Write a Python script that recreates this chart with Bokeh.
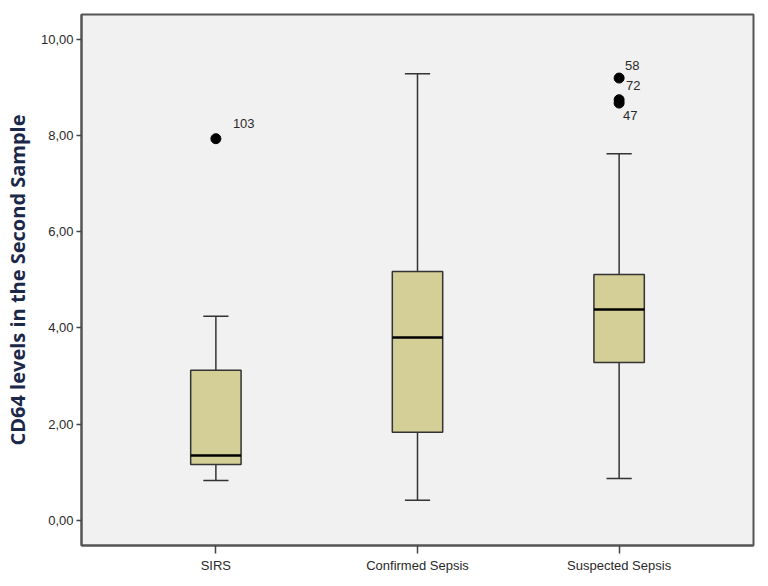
from bokeh.plotting import figure
from bokeh.models import FactorRange, FixedTicker, CustomJSTickFormatter
from bokeh.embed import file_html
from bokeh.resources import INLINE
from bokeh.core.properties import value

categories = ["SIRS", "Confirmed Sepsis", "Suspected Sepsis"]
lower_whisker = [0.83, 0.42, 0.87]
q1 = [1.16, 1.83, 3.28]
median = [1.35, 3.80, 4.38]
q3 = [3.12, 5.17, 5.11]
upper_whisker = [4.24, 9.28, 7.62]

outlier_cat = ["SIRS", "Suspected Sepsis", "Suspected Sepsis", "Suspected Sepsis"]
outlier_val = [7.93, 9.19, 8.74, 8.67]
outlier_id = ["103", "58", "72", "47"]

y_ticks = [0, 2, 4, 6, 8, 10]

p = figure(
    width=768, height=586,
    x_range=FactorRange(factors=categories, range_padding=0.111, range_padding_units="percent"),
    y_range=(-0.52, 10.51),
    output_backend="svg", toolbar_location=None,
    min_border_left=81, min_border_right=15, min_border_top=14, min_border_bottom=41,
)
p.styles = {"outline": "1.5px solid #222222", "outline-offset": "-2px"}
p.background_fill_color = "#f1f1f1"
p.border_fill_color = "white"
p.outline_line_color = "#555555"
p.outline_line_width = 2
p.grid.visible = False

# whiskers
p.segment(x0=categories, y0=q3, x1=categories, y1=upper_whisker, line_color="#333333", line_width=1.5)
p.segment(x0=categories, y0=lower_whisker, x1=categories, y1=q1, line_color="#333333", line_width=1.5)
# caps
p.rect(x=categories, y=upper_whisker, width=0.125, height=1.5, height_units="screen",
       fill_color="#333333", line_color=None)
p.rect(x=categories, y=lower_whisker, width=0.125, height=1.5, height_units="screen",
       fill_color="#333333", line_color=None)
# boxes
p.vbar(x=categories, bottom=q1, top=q3, width=0.25, fill_color="#d4cf97",
       line_color="#333333", line_width=1.5)
# medians
p.rect(x=categories, y=median, width=0.25, height=2.5, height_units="screen",
       fill_color="black", line_color=None)

# outliers
p.scatter(x=outlier_cat, y=outlier_val, size=10, fill_color="black", line_color="black")
p.text(x=outlier_cat, y=outlier_val, text=outlier_id,
       x_offset=[17, 6, 7, 4], y_offset=[-15, -13, -14, 12],
       text_font=value("Liberation Sans"), text_font_size="13px",
       text_color="#2a2a2a", text_baseline="middle")

# axes
p.yaxis.ticker = FixedTicker(ticks=y_ticks)
p.yaxis.formatter = CustomJSTickFormatter(code="return tick.toFixed(2).replace('.', ',');")
for ax in (p.xaxis[0], p.yaxis[0]):
    ax.axis_line_color = "#555555"
    ax.axis_line_width = 2
    ax.major_tick_line_color = "#444444"
    ax.major_tick_line_width = 1.5
    ax.major_tick_in = 0
    ax.minor_tick_line_color = None
    ax.major_label_text_font = "Liberation Sans"
    ax.major_label_text_font_size = "13px"
    ax.major_label_text_color = "#2a2a2a"
    ax.major_label_standoff = 3
p.yaxis.major_tick_out = 5
p.xaxis.major_tick_out = 8
p.xaxis.major_label_standoff = 4

p.yaxis.axis_label = "CD64 levels in the Second Sample"
p.yaxis.axis_label_text_font = "Open Sans"
p.yaxis.axis_label_text_font_style = "bold"
p.yaxis.axis_label_text_font_size = "20px"
p.yaxis.axis_label_text_color = "#1c2849"
p.yaxis.axis_label_standoff = 7

open("out.html", "w").write(file_html(p, INLINE))
